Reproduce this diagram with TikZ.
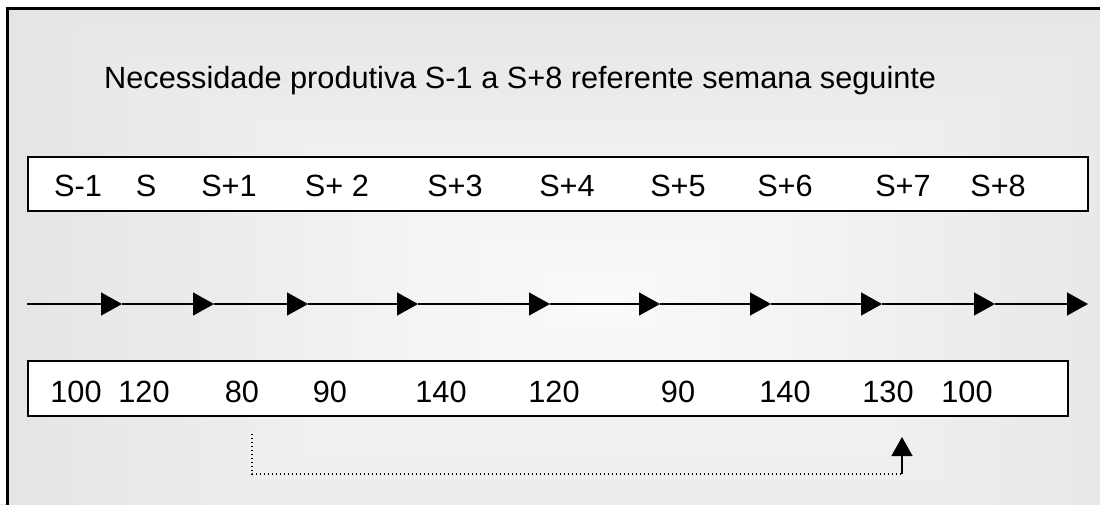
\documentclass[tikz,border=0pt]{standalone}
\usepackage{fontspec}
\setmainfont{Liberation Sans}
\usetikzlibrary{arrows.meta}
\definecolor{bgedge}{RGB}{228,228,228}
\definecolor{bgcentre}{RGB}{250,250,250}
\begin{document}
\begin{tikzpicture}[x=1pt,y=-1pt,
  txt/.style={font=\fontsize{30.7}{35}\selectfont, inner sep=0pt, anchor=base},
  rowbox/.style={draw=black, line width=1.3pt, fill=white, rectangle, inner sep=0pt},
  flow/.style={line width=1.4pt, -{Triangle[length=21pt,width=23pt]}},
  link/.style={line width=1.4pt, dash pattern=on 1.4pt off 2.6pt},
  linkarrow/.style={line width=1.4pt, -{Triangle[length=19pt,width=21pt]}}]
\useasboundingbox (0,0) rectangle (1100,504);
\clip (0,0) rectangle (1100,504);
% background gradient
\foreach \k in {0,...,24}{
  \pgfmathsetmacro{\w}{620*(1-\k/25)}
  \pgfmathsetmacro{\h}{320*(1-\k/25)}
  \pgfmathsetmacro{\p}{100*\k/24}
  \fill[bgcentre!\p!bgedge] (600-\w,300-\h) rectangle (600+\w,300+\h);
}
\fill[white] (0,0) rectangle (6,504);
\fill[white] (0,0) rectangle (1100,6.5);
% outer frame
\draw[line width=3pt] (7.5,540) -- (7.5,8) -- (1130,8);
% title
\node[txt, anchor=base west] (title) at (104,88) {Necessidade produtiva S-1 a S+8 referente semana seguinte};
% top box
\node[rowbox, minimum width=1060pt, minimum height=54pt] (topbox) at (558,184) {};
\foreach \t/\x [count=\i] in {S-1/78, S/146, S+1/229, S+ 2/337, S+3/455, S+4/567, S+5/678, S+6/785, S+7/903, S+8/998}
  \node[txt] (s\i) at (\x,196) {\t};
% arrow chain
\coordinate (a0) at (27,304);
\foreach \x [count=\i] in {122,214,308,418,550,660,771,882,995,1088}
  \coordinate (a\i) at (\x,304);
\foreach \i [evaluate=\i as \j using int(\i-1)] in {1,...,10}
  \draw[flow] (a\j) -- (a\i);
% bottom box
\node[rowbox, minimum width=1040pt, minimum height=55pt] (botbox) at (548,388.5) {};
\foreach \t/\x [count=\i] in {100/76, 120/144, 80/242, 90/330, 140/441, 120/554, 90/678, 140/785, 130/888, 100/967}
  \node[txt] (n\i) at (\x,402) {\t};
% dotted link
\coordinate (d0) at (252,434);
\coordinate (d1) at (252,474);
\coordinate (d2) at (902,474);
\coordinate (d3) at (902,437);
\draw[link] (d0) -- (d1) -- (d2);
\draw[linkarrow] (d2) -- (d3);
\end{tikzpicture}
\end{document}
